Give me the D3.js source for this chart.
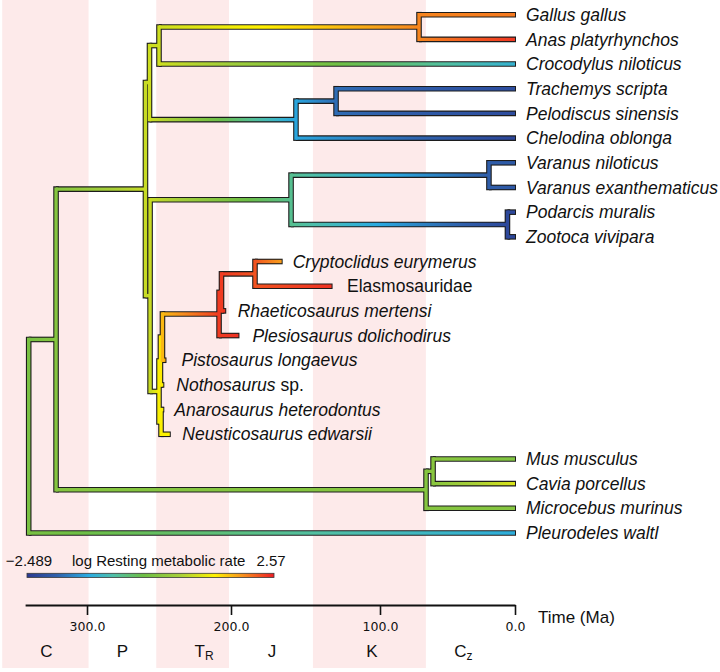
<!DOCTYPE html>
<html><head><meta charset="utf-8">
<script src="https://cdn.jsdelivr.net/npm/d3@7"></script>
<style>body{margin:0;background:#fff}svg{display:block}</style>
</head><body><svg id="c" width="720" height="672"></svg>
<script>
// ---------------- DATA ----------------
const tipNames = ["Gallus gallus","Anas platyrhynchos","Crocodylus niloticus","Trachemys scripta","Pelodiscus sinensis","Chelodina oblonga","Varanus niloticus","Varanus exanthematicus","Podarcis muralis","Zootoca vivipara","Cryptoclidus eurymerus","Elasmosauridae","Rhaeticosaurus mertensi","Plesiosaurus dolichodirus","Pistosaurus longaevus","Nothosaurus sp.","Anarosaurus heterodontus","Neusticosaurus edwarsii","Mus musculus","Cavia porcellus","Microcebus murinus","Pleurodeles waltl"];
const tipAges = [0,0,0,0,0,0,0,0,0,0,166,132.5,204,195,245.5,247,247,242.5,0,0,0,0];
const tipValues = [2.06,2.42,-1.07,-2.18,-2.2,-2.3,-1.98,-2.0,-2.25,-2.3,1.85,2.45,2.45,2.45,1.8,1.35,1.35,1.35,0.14,1.05,0.2,-1.17];

const nodeNames = ["root","Amniota","Sauropsida","Archelosauria","Archosauria","Aves","Testudines","Cryptodira","LepSaur","Lepidosauria","Varanus","Lacertidae","Sauropterygia","Eusauropterygia","Pistosauroidea","Plesiosauria","PlesioCore","CryptElasmo","Pachypleurosauria","Mammalia","Glires"];
const nodeChildren = [
  ["Amniota","Pleurodeles waltl"],
  ["Sauropsida","Mammalia"],
  ["Archelosauria","LepSaur"],
  ["Archosauria","Testudines"],
  ["Aves","Crocodylus niloticus"],
  ["Gallus gallus","Anas platyrhynchos"],
  ["Cryptodira","Chelodina oblonga"],
  ["Trachemys scripta","Pelodiscus sinensis"],
  ["Lepidosauria","Sauropterygia"],
  ["Varanus","Lacertidae"],
  ["Varanus niloticus","Varanus exanthematicus"],
  ["Podarcis muralis","Zootoca vivipara"],
  ["Eusauropterygia","Pachypleurosauria"],
  ["Pistosauroidea","Nothosaurus sp."],
  ["Plesiosauria","Pistosaurus longaevus"],
  ["PlesioCore","Plesiosaurus dolichodirus"],
  ["CryptElasmo","Rhaeticosaurus mertensi"],
  ["Cryptoclidus eurymerus","Elasmosauridae"],
  ["Anarosaurus heterodontus","Neusticosaurus edwarsii"],
  ["Glires","Microcebus murinus"],
  ["Mus musculus","Cavia porcellus"]
];
const nodeAges = [340.5,321.5,259.4,256.6,250,71.1,156.4,129.5,256.2,159.7,19.3,5.6,250,249,247.6,208.3,206.6,183.9,248.6,65.9,60.7];
const nodeValues = [0.04,0.2,0.9,0.95,0.95,2.0,-1.28,-1.78,0.9,-0.57,-1.93,-2.25,1.3,1.4,1.7,2.4,2.4,2.27,1.32,0.2,0.25];

const traitRange = [-2.489, 2.57];
const traitTitle = "log Resting metabolic rate";
const tickValues = [300,200,100,0];
const axisTitle = "Time (Ma)";
const periodLetters = ["C","P","T","J","K","C"];
const periodSubs = ["","","R","","","z"];
const periodStart = [358.9,298.9,251.9,201.4,145,66];
const periodEnd = [298.9,251.9,201.4,145,66,0];
const periodShaded = [true,false,true,false,true,false];

// ---------------- LAYOUT / STYLE ----------------
const svg = d3.select("#c");
const xs = d3.scaleLinear().domain([0,100,200,300,343]).range([515,380,231,87,25.1]);
const ys = d3.scaleLinear().domain([0,tipNames.length-1]).range([14.7,533]);
const colorStops = [0,0.12,0.25,0.35,0.47,0.62,0.76,0.87,1];
const colorList = ["#2b3990","#2f60ab","#29abe2","#4fbfa8","#6cbe45","#a8cf38","#fff200","#f7941d","#ed1c24"];
const col = d3.scaleLinear()
  .domain(colorStops.map(s => traitRange[0] + s*(traitRange[1]-traitRange[0])))
  .range(colorList).interpolate(d3.interpolateRgb).clamp(true);

const labelNudge = {"Elasmosauridae":4.5,"Rhaeticosaurus mertensi":1.5,"Plesiosaurus dolichodirus":3,"Pistosaurus longaevus":5,"Nothosaurus sp.":2,"Neusticosaurus edwarsii":1.5};
const periodNudge = [1,0,11.4,1,0,-7];

// ---------------- BUILD TREE ----------------
const info = {};
tipNames.forEach((n,i)=>{ info[n] = {name:n, tip:true, age:tipAges[i], value:tipValues[i], y:ys(i)}; });
nodeNames.forEach((n,i)=>{ info[n] = {name:n, tip:false, age:nodeAges[i], value:nodeValues[i], kids:nodeChildren[i]}; });
function build(n){ const o = info[n]; return o.tip ? {name:n} : {name:n, children:o.kids.map(build)}; }
const root = d3.hierarchy(build("root"));
root.eachAfter(d => {
  const o = info[d.data.name];
  d.x = xs(o.age); d.v = o.value; d.tip = o.tip;
  d.y = o.tip ? o.y : d3.mean(d.children, c => c.y);
});

// ---------------- BACKGROUND BANDS ----------------
const gB = svg.append("g");
periodLetters.forEach((p,i)=>{
  if(!periodShaded[i]) return;
  const x0 = Math.max(0, xs(periodStart[i])), x1 = xs(periodEnd[i]);
  gB.append("rect").attr("x",x0).attr("y",0).attr("width",x1-x0).attr("height",668).attr("fill","#fdeaea");
});

// ---------------- TREE ----------------
const defs = svg.append("defs");
const OUT = 5.6, IN = 3.4;
const gBlack = svg.append("g"), gCol = svg.append("g");
const links = root.links();
let gi = 0;
// black outlines
root.descendants().filter(d=>d.children).forEach(d=>{
  const y0 = d3.min(d.children,c=>c.y), y1 = d3.max(d.children,c=>c.y);
  gBlack.append("line").attr("x1",d.x).attr("x2",d.x).attr("y1",y0).attr("y2",y1)
    .attr("stroke","#1c1c1c").attr("stroke-width",OUT).attr("stroke-linecap","square");
});
links.forEach(l=>{
  const t = l.target;
  gBlack.append("line").attr("x1",l.source.x).attr("x2",t.x + (t.tip?1:0)).attr("y1",t.y).attr("y2",t.y)
    .attr("stroke","#1c1c1c").attr("stroke-width",OUT);
});
// colored
links.forEach(l=>{
  const s = l.source, t = l.target;
  const id = "g"+(gi++);
  const g = defs.append("linearGradient").attr("id",id).attr("gradientUnits","userSpaceOnUse")
    .attr("x1",s.x).attr("x2",t.x).attr("y1",0).attr("y2",0);
  d3.range(0,1.0001,0.1).forEach(f=>{
    g.append("stop").attr("offset",f).attr("stop-color",col(s.v + f*(t.v - s.v)));
  });
  gCol.append("line").attr("x1",s.x).attr("x2",t.x).attr("y1",t.y).attr("y2",t.y)
    .attr("stroke","url(#"+id+")").attr("stroke-width",IN);
});
root.descendants().filter(d=>d.children).forEach(d=>{
  const y0 = d3.min(d.children,c=>c.y), y1 = d3.max(d.children,c=>c.y);
  gCol.append("line").attr("x1",d.x).attr("x2",d.x).attr("y1",y0).attr("y2",y1)
    .attr("stroke",col(d.v)).attr("stroke-width",IN).attr("stroke-linecap","square");
});

// ---------------- TIP LABELS ----------------
const gL = svg.append("g").attr("font-family","'Liberation Sans', Arial, sans-serif").attr("font-size",17.5).attr("fill","#111");
root.leaves().forEach(d=>{
  const n = d.data.name;
  const t = gL.append("text").attr("x", d.x + 11 + (labelNudge[n]||0)).attr("y", d.y).attr("dy","0.35em");
  if(n === "Elasmosauridae"){ t.text(n); }
  else if(n.endsWith(" sp.")){
    t.append("tspan").attr("font-style","italic").text(n.replace(" sp.",""));
    t.append("tspan").text(" sp.");
  } else { t.attr("font-style","italic").text(n); }
});

// ---------------- COLOR LEGEND ----------------
const lg = defs.append("linearGradient").attr("id","cbar");
colorStops.forEach((s,i)=> lg.append("stop").attr("offset",s).attr("stop-color",colorList[i]));
svg.append("rect").attr("x",27).attr("y",573.3).attr("width",247).attr("height",4.2)
  .attr("fill","url(#cbar)").attr("stroke","#3a3a3a").attr("stroke-width",0.8);
const gT = svg.append("g").attr("font-family","'Liberation Sans', Arial, sans-serif").attr("font-size",15).attr("fill","#111");
gT.append("text").attr("x",29).attr("y",566).attr("text-anchor","middle").text("\u2212" + Math.abs(traitRange[0]).toString());
gT.append("text").attr("x",72).attr("y",566).text(traitTitle);
gT.append("text").attr("x",271).attr("y",566).attr("text-anchor","middle").text(String(traitRange[1]));

// ---------------- AXIS ----------------
const ax = svg.append("g").attr("transform","translate(0,605)")
  .call(d3.axisBottom(xs).tickValues(tickValues).tickFormat(d3.format(".1f")).tickSize(10).tickSizeOuter(0).tickPadding(7));
ax.select(".domain").attr("stroke","#111").attr("stroke-width",2);
ax.selectAll(".tick line").attr("stroke","#111").attr("stroke-width",1.6);
ax.selectAll(".tick text").attr("font-family","'DejaVu Sans', sans-serif").attr("font-size",12.5).attr("fill","#111");
svg.append("text").attr("x",538).attr("y",622.5).attr("font-family","'Liberation Sans', Arial, sans-serif")
  .attr("font-size",17).attr("fill","#111").text(axisTitle);

// ---------------- PERIOD LABELS ----------------
const gP = svg.append("g").attr("font-family","'Liberation Sans', Arial, sans-serif").attr("font-size",17).attr("fill","#111");
periodLetters.forEach((p,i)=>{
  const cx = xs((periodStart[i]+periodEnd[i])/2) + periodNudge[i];
  const t = gP.append("text").attr("x",cx).attr("y",656.5).attr("text-anchor","middle");
  t.append("tspan").text(p);
  if(periodSubs[i]) t.append("tspan").attr("font-size",12).attr("dy",3.5).text(periodSubs[i]);
});
</script></body></html>
